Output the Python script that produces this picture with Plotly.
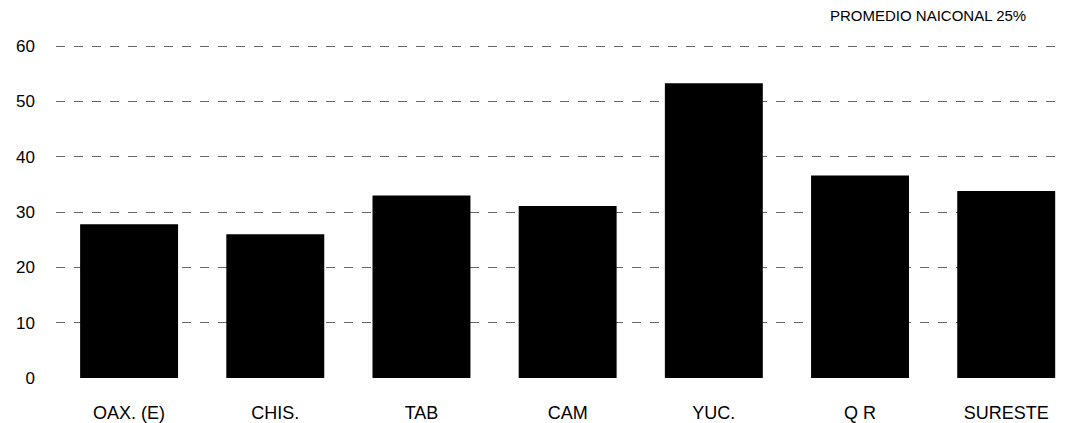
import plotly.graph_objects as go

categories = ["OAX. (E)", "CHIS.", "TAB", "CAM", "YUC.", "Q R", "SURESTE"]
values = [27.8, 26.0, 33.0, 31.1, 53.3, 36.6, 33.8]
y_ticks = [0, 10, 20, 30, 40, 50, 60]
note_text = "PROMEDIO NAICONAL 25%"

fig = go.Figure()
fig.add_trace(go.Bar(x=categories, y=values, marker=dict(color="black", line=dict(width=0))))

fig.update_layout(
    width=1072, height=423,
    margin=dict(l=43, r=8, t=37, b=52),
    paper_bgcolor="white", plot_bgcolor="white",
    bargap=0.33,
    showlegend=False,
    font=dict(family="Liberation Sans, Arial, sans-serif", size=17, color="black"),
    xaxis=dict(range=[-0.5, 6.45], showgrid=False, showline=False, zeroline=False,
               ticks="", ticklabelstandoff=22, tickfont=dict(size=18)),
    yaxis=dict(range=[0, 60.2], tickvals=y_ticks, showgrid=True, gridcolor="#666",
               griddash="dash", gridwidth=1, showline=False, zeroline=False,
               ticks="", ticklabelstandoff=20, tickfont=dict(size=17)),
    annotations=[dict(text=note_text, xref="paper", yref="paper", x=0.858, y=1.0,
                      yshift=30, xanchor="center", yanchor="middle", showarrow=False,
                      font=dict(size=15, color="black"))],
)

fig.write_html("out.html")
